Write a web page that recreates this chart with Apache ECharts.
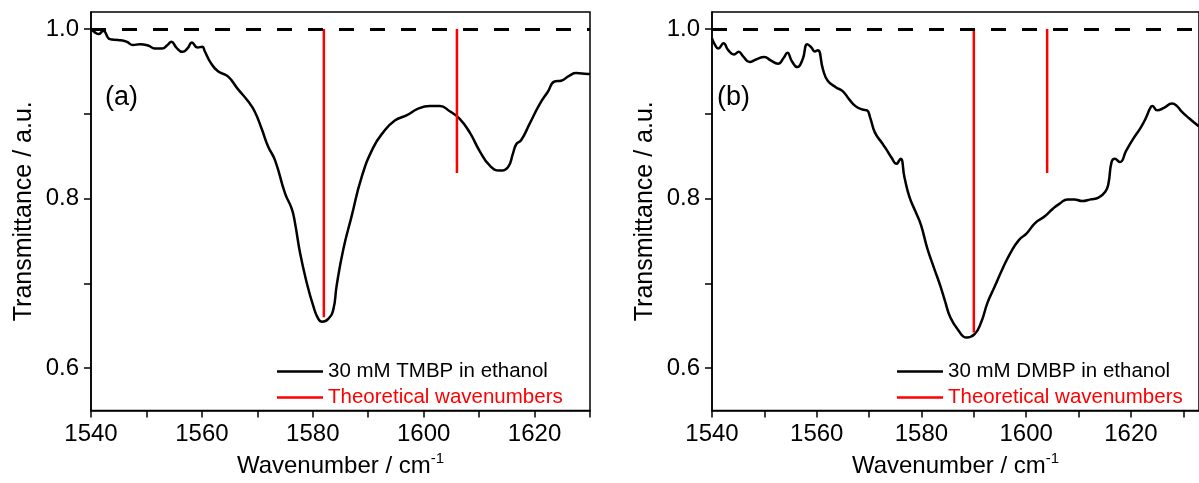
<!DOCTYPE html>
<html>
<head>
<meta charset="utf-8">
<script src="https://cdn.jsdelivr.net/npm/echarts@6/dist/echarts.min.js"></script>
<style>
html,body{margin:0;padding:0;background:#fff;}
#chart{width:1199px;height:483px;}
</style>
</head>
<body>
<div id="chart"></div>
<script>
// ---- Data ----
const tmbpX = [1540,1540.7,1541.4,1542.2,1543.4,1544.9,1546.4,1547.6,1548.8,1550.3,1551.5,1552.8,1553.8,1554.5,1555.4,1556.5,1557.4,1558.2,1559.2,1560.1,1560.5,1561.6,1562.9,1564.7,1566.5,1568.3,1569.5,1570.8,1571.9,1573.2,1575.0,1576.2,1576.8,1577.7,1578.9,1580.1,1581.0,1581.7,1582.8,1583.7,1584.3,1585.5,1587.0,1588.8,1590.9,1592.7,1594.8,1596.9,1599.0,1601.1,1602.9,1604.7,1606.5,1608.3,1610.1,1611.9,1613.7,1615.2,1616.1,1616.7,1617.6,1619.1,1620.9,1622.4,1623.6,1624.8,1626.3,1627.5,1629.6,1630];
const tmbpY = [1.0,0.996,0.994,0.998,0.988,0.987,0.985,0.981,0.982,0.9805,0.977,0.977,0.981,0.985,0.978,0.973,0.977,0.984,0.978,0.979,0.974,0.960,0.950,0.944,0.929,0.915,0.903,0.882,0.862,0.845,0.806,0.788,0.771,0.736,0.701,0.673,0.658,0.6546,0.658,0.669,0.697,0.740,0.779,0.825,0.860,0.878,0.892,0.898,0.906,0.909,0.909,0.903,0.894,0.878,0.856,0.839,0.833,0.837,0.853,0.864,0.869,0.888,0.911,0.926,0.938,0.939,0.945,0.948,0.947,0.947];

const dmbpX = [1540,1540.6,1541.2,1542.2,1543.1,1544.2,1545.1,1545.9,1547.2,1548.4,1550.0,1551.2,1552.6,1553.7,1554.4,1555.25,1556.3,1557.3,1558.2,1559.0,1559.6,1560.2,1561.2,1562.1,1563.7,1564.9,1566.2,1567.4,1568.7,1569.6,1570.2,1571.1,1572.4,1573.3,1574.3,1575.2,1576.0,1576.75,1577.7,1578.9,1579.9,1581.1,1582.4,1583.6,1584.5,1585.5,1587.0,1588.6,1590.15,1591.4,1592.6,1593.9,1595.4,1597.0,1598.6,1600.1,1601.7,1603.55,1605.1,1606.4,1607.9,1609.2,1610.7,1612.3,1613.8,1615.1,1615.7,1616.3,1616.9,1617.9,1619.1,1620.4,1621.9,1622.9,1623.7,1624.1,1625.0,1626.3,1627.85,1628.8,1629.7,1631.1,1633];
const dmbpY = [0.989,0.981,0.977,0.983,0.975,0.970,0.973,0.968,0.961,0.964,0.967,0.963,0.959,0.966,0.972,0.962,0.955,0.964,0.982,0.978,0.9735,0.975,0.952,0.939,0.931,0.927,0.917,0.909,0.905,0.904,0.8955,0.878,0.866,0.858,0.848,0.841,0.847,0.825,0.802,0.784,0.769,0.7415,0.718,0.697,0.679,0.660,0.645,0.636,0.640,0.654,0.677,0.695,0.716,0.736,0.751,0.759,0.771,0.779,0.788,0.794,0.799,0.799,0.797,0.799,0.801,0.808,0.8175,0.843,0.847,0.843,0.8565,0.870,0.884,0.8955,0.907,0.909,0.904,0.907,0.912,0.909,0.9026,0.8947,0.885];

const theoTMBP = [1582, 1606];
const theoTMBPLow = [0.66, 0.83];
const theoDMBP = [1590, 1604];
const theoDMBPLow = [0.642, 0.83];
const baseline = 1.0;

const xTicks = [1540,1550,1560,1570,1580,1590,1600,1610,1620,1630];
const xLabels = [1540,1560,1580,1600,1620];
const yTicks = [0.6,0.7,0.8,0.9,1.0];
const yLabels = [0.6,0.8,1.0];

const nameTMBP = '30 mM TMBP in ethanol';
const nameDMBP = '30 mM DMBP in ethanol';
const nameTheo = 'Theoretical wavenumbers';

// ---- Chart ----
const FONT = '"Liberation Sans", Arial, sans-serif';
const chart = echarts.init(document.getElementById('chart'), null, {renderer:'canvas'});

function zip(xs, ys){ return xs.map((x,i)=>[x, ys[i]]); }

function xAxisCfg(gi, max){
  return {
    type:'value', gridIndex:gi, min:1540, max:max,
    name:'Wavenumber / cm{sup|-1}', nameLocation:'middle', nameGap:41,
    nameTextStyle:{fontFamily:FONT, fontSize:24, color:'#000',
      rich:{sup:{fontFamily:FONT, fontSize:15, color:'#000', verticalAlign:'top', padding:[0,0,14,0]}}},
    axisLine:{show:true, onZero:false, lineStyle:{color:'#000', width:1.5}},
    axisTick:{show:true, inside:false, length:7, lineStyle:{color:'#000', width:1.5}, customValues:xTicks},
    axisLabel:{show:true, margin:12, fontFamily:FONT, fontSize:24, color:'#000', customValues:xLabels,
      formatter:(v)=>String(Math.round(v))},
    splitLine:{show:false}
  };
}
function yAxisCfg(gi){
  return {
    type:'value', gridIndex:gi, min:0.55, max:1.02,
    name:'Transmittance / a.u.', nameLocation:'middle', nameGap:54,
    nameTextStyle:{fontFamily:FONT, fontSize:25, color:'#000'},
    axisLine:{show:true, onZero:false, lineStyle:{color:'#000', width:1.5}},
    axisTick:{show:true, inside:false, length:7, lineStyle:{color:'#000', width:1.5}, customValues:yTicks},
    axisLabel:{show:true, margin:12, fontFamily:FONT, fontSize:24, color:'#000', customValues:yLabels,
      formatter:(v)=>Number(v).toFixed(1)},
    splitLine:{show:false}
  };
}

function dataSeries(name, xs, ys, gi){
  return {
    type:'line', name:name, xAxisIndex:gi, yAxisIndex:gi,
    data: zip(xs, ys), showSymbol:false, symbol:'none',
    smooth:0.5,
    color:'#000',
    lineStyle:{color:'#000', width:2.5},
    itemStyle:{color:'#000'},
    z:3,
    markLine:{
      silent:true, symbol:['none','none'], label:{show:false},
      lineStyle:{color:'#000', width:3, type:[15,16]},
      data:[{yAxis: baseline}]
    }
  };
}
function theoSeries(xs, lows, gi){
  return xs.map((x,i)=>({
    type:'line', name:nameTheo, xAxisIndex:gi, yAxisIndex:gi,
    data:[[x, baseline],[x, lows[i]]], showSymbol:false, symbol:'none',
    color:'#ff0000',
    lineStyle:{color:'#ff0000', width:2.5},
    itemStyle:{color:'#ff0000'},
    z:4
  }));
}

function legendCfg(left, mainName){
  return {
    orient:'vertical', left:left, top:356, itemGap:5,
    icon:'rect', itemWidth:46, itemHeight:2.5,
    textStyle:{fontFamily:FONT, fontSize:20.5, lineHeight:20, color:'#000'},
    selectedMode:false,
    data:[
      {name:mainName, textStyle:{color:'#000'}},
      {name:nameTheo, textStyle:{color:'#ff0000'}}
    ]
  };
}

const option = {
  backgroundColor:'#fff',
  animation:false,
  grid:[
    {left:91, top:12, width:499, height:401, show:true, borderColor:'#000', borderWidth:1.5, backgroundColor:'transparent'},
    {left:712, top:12, width:498, height:401, show:true, borderColor:'#000', borderWidth:1.5, backgroundColor:'transparent'}
  ],
  xAxis:[xAxisCfg(0,1630), xAxisCfg(1,1633)],
  yAxis:[yAxisCfg(0), yAxisCfg(1)],
  legend:[legendCfg(272, nameTMBP), legendCfg(892, nameDMBP)],
  graphic:[
    {type:'text', left:105, top:84, style:{text:'(a)', fontFamily:FONT, fontSize:27, fill:'#000'}},
    {type:'text', left:717, top:84, style:{text:'(b)', fontFamily:FONT, fontSize:27, fill:'#000'}}
  ],
  series:[
    dataSeries(nameTMBP, tmbpX, tmbpY, 0),
    ...theoSeries(theoTMBP, theoTMBPLow, 0),
    dataSeries(nameDMBP, dmbpX, dmbpY, 1),
    ...theoSeries(theoDMBP, theoDMBPLow, 1)
  ]
};
chart.setOption(option);
</script>
</body>
</html>
